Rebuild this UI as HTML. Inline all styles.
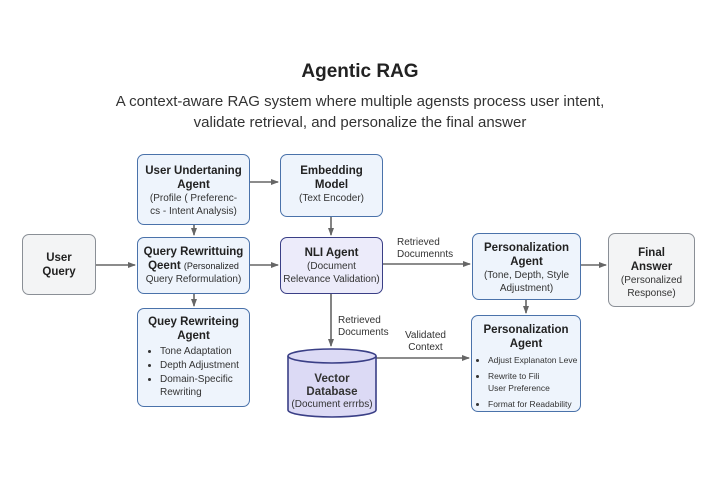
<!DOCTYPE html>
<html><head><meta charset="utf-8"><style>
body{margin:0;width:720px;height:480px;background:#fff;font-family:"Liberation Sans",sans-serif;position:relative;overflow:hidden;color:#222}
.b{position:absolute;box-sizing:border-box;border:1.6px solid #4a72aa;border-radius:7px;background:#eef4fc;text-align:center;font-size:10px;line-height:13px;color:#333}
.t{font-weight:bold;font-size:11.5px;line-height:14px;color:#222}
.g{background:#f3f4f5;border-color:#8a8f96}
.p{background:#ecebfa;border-color:#3a3f86}
.l{position:absolute;font-size:10px;line-height:12px;color:#333}
ul{margin:2px 0 0 0;padding:0 0 0 22px;text-align:left;font-size:10px;line-height:14px}
</style></head><body>
<div style="position:absolute;top:61px;width:720px;text-align:center;font-size:19px;font-weight:bold;color:#222">Agentic RAG</div>
<div style="position:absolute;top:91px;width:720px;text-align:center;font-size:15px;line-height:21px;color:#333">A context-aware RAG system where multiple agensts process user intent,<br>validate retrieval, and personalize the final answer</div>
<svg width="720" height="480" style="position:absolute;left:0;top:0">
<defs><marker id="a" markerUnits="userSpaceOnUse" markerWidth="8" markerHeight="8" refX="7" refY="4" orient="auto"><path d="M0,1 L8,4 L0,7z" fill="#666"/></marker></defs>
<g stroke="#666" stroke-width="1.6" fill="none" marker-end="url(#a)">
<line x1="95" y1="265" x2="135" y2="265"/>
<line x1="250" y1="182" x2="278" y2="182"/>
<line x1="194" y1="225" x2="194" y2="235"/>
<line x1="194" y1="294" x2="194" y2="306"/>
<line x1="250" y1="265" x2="278" y2="265"/>
<line x1="331" y1="217" x2="331" y2="235"/>
<line x1="331" y1="294" x2="331" y2="346"/>
<line x1="383" y1="264" x2="470" y2="264"/>
<line x1="376" y1="358" x2="469" y2="358"/>
<line x1="581" y1="265" x2="606" y2="265"/>
<line x1="526" y1="300" x2="526" y2="313"/>
</g>
<g stroke="#3a3f86" stroke-width="1.6" fill="#dcdaf5">
<path d="M288,356 L288,410 A44,7 0 0 0 376,410 L376,356"/>
<ellipse cx="332" cy="356" rx="44" ry="7"/>
</g>
</svg>
<div class="b g" style="left:22px;top:234px;width:74px;height:61px;padding-top:16px"><span class="t">User<br>Query</span></div>
<div class="b" style="left:137px;top:154px;width:113px;height:71px;padding-top:9px"><div class="t">User Undertaning<br>Agent</div>(Profile ( Preferenc-<br>cs - Intent Analysis)</div>
<div class="b" style="left:137px;top:237px;width:113px;height:57px;padding-top:7px"><div class="t">Query Rewrittuing<br>Qeent <span style="font-weight:normal;font-size:9px">(Personalized</span></div>Query Reformulation)</div>
<div class="b" style="left:137px;top:308px;width:113px;height:99px;padding-top:6px"><div class="t">Quey Rewriteing<br>Agent</div><ul><li>Tone Adaptation</li><li>Depth Adjustment</li><li style="line-height:13px">Domain-Specific Rewriting</li></ul></div>
<div class="b" style="left:280px;top:154px;width:103px;height:63px;padding-top:9px"><div class="t">Embedding<br>Model</div>(Text Encoder)</div>
<div class="b p" style="left:280px;top:237px;width:103px;height:57px;padding-top:8px"><div class="t">NLI Agent</div>(Document<br>Relevance Validation)</div>
<div class="l" style="left:288px;top:373px;width:88px;text-align:center"><b style="font-size:11.5px;line-height:13px">Vector<br>Database</b><br>(Document errrbs)</div>
<div class="l" style="left:397px;top:237px">Retrieved<br>Documennts</div>
<div class="l" style="left:338px;top:315px">Retrieved<br>Documents</div>
<div class="l" style="left:405px;top:330px;text-align:center">Validated<br>Context</div>
<div class="b" style="left:472px;top:233px;width:109px;height:67px;padding-top:7px"><div class="t">Personalization<br>Agent</div>(Tone, Depth, Style<br>Adjustment)</div>
<div class="b g" style="left:608px;top:233px;width:87px;height:74px;padding-top:12px"><div class="t">Final<br>Answer</div>(Personalized<br>Response)</div>
<div class="b" style="left:471px;top:315px;width:110px;height:97px;padding-top:7px"><div class="t">Personalization<br>Agent</div><ul style="font-size:8.5px;line-height:12px;padding-left:16px;white-space:nowrap;margin-top:3px"><li style="margin-bottom:4px">Adjust Explanaton Leve</li><li style="margin-bottom:4px">Rewrite to Fili<br>User Preference</li><li>Format for Readability</li></ul></div>
</body></html>
